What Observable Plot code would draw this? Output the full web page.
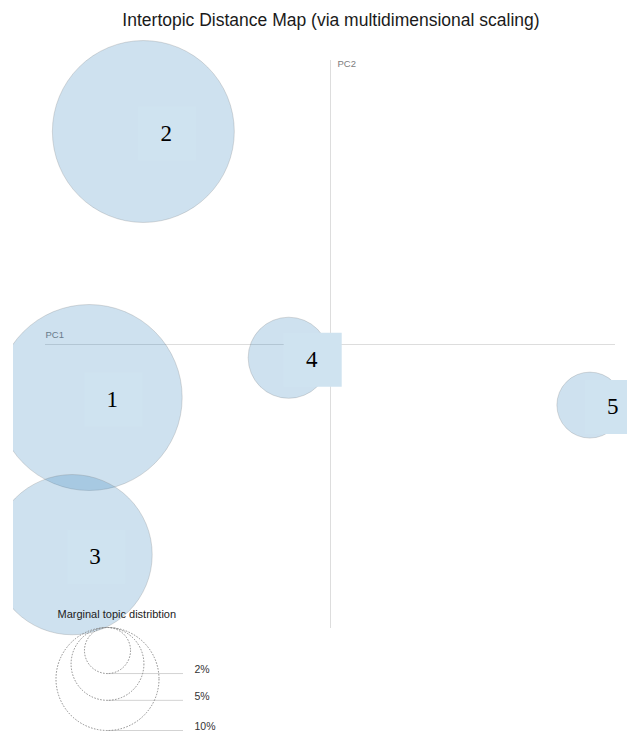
<!DOCTYPE html>
<html>
<head>
<meta charset="utf-8">
<script src="https://cdn.jsdelivr.net/npm/d3@7"></script>
<script src="https://cdn.jsdelivr.net/npm/@observablehq/plot@0.6"></script>
<style>
  body { margin: 0; background: #fff; }
  #wrap { position: relative; width: 627px; height: 731px; overflow: hidden; background: #fff; }
  #title { position: absolute; left: 0; top: 9px; width: 627px; padding-left: 35px; box-sizing: border-box;
           text-align: center; font: 17.5px "Liberation Sans", Arial, sans-serif; line-height: 22px; color: #1a1a1a; }
  #chart { position: absolute; left: 13px; top: 40px; width: 614px; height: 691px; }
  #legend { position: absolute; left: 0; top: 0; width: 627px; height: 731px; pointer-events: none; }
</style>
</head>
<body>
<div id="wrap">
  <div id="chart"></div>
  <div id="legend"></div>
  <div id="title">Intertopic Distance Map (via multidimensional scaling)</div>
</div>
<script>
// ---- data ----
const topicIds = [1, 2, 3, 4, 5];
const pc1 = [-0.254, -0.197, -0.272, -0.044, 0.273];
const pc2 = [-0.056, 0.225, -0.222, -0.014, -0.064];
const marginalPct = [32.6, 31.2, 24.2, 6.2, 4.1];
const legendPct = [2, 5, 10];
const legendLabels = ["2%", "5%", "10%"];
const axisDomain = [-0.3, 0.3];
const axisNames = ["PC1", "PC2"];
const legendTitle = "Marginal topic distribtion";

const topics = topicIds.map((id, i) => ({ id, x: pc1[i], y: pc2[i], freq: marginalPct[i] }));

const rOpts = { type: "sqrt", domain: [0, 10], range: [0, 51.5] };
const sans = "'Liberation Sans', Arial, sans-serif";

const labelBox = { draw(ctx) { ctx.rect(-29, -27, 58, 54); } };
const LDX = 23, LDY = 2;

const chart = Plot.plot({
  width: 614, height: 691,
  marginLeft: 32, marginRight: 12, marginTop: 20, marginBottom: 103,
  style: { background: "transparent", overflow: "hidden" },
  x: { domain: axisDomain, axis: null },
  y: { domain: axisDomain, axis: null },
  r: rOpts,
  marks: [
    Plot.ruleY([0], { stroke: "#dddddd", strokeWidth: 1 }),
    Plot.ruleX([0], { stroke: "#dddddd", strokeWidth: 1 }),
    Plot.text([axisNames[0]], { x: axisDomain[0], y: 0, text: d => d, dy: -10, textAnchor: "start", fontSize: 9.5, fill: "#7d7d7d", fontFamily: sans }),
    Plot.text([axisNames[1]], { x: 0, y: axisDomain[1], text: d => d, dx: 7, dy: 3, textAnchor: "start", fontSize: 9.5, fill: "#7d7d7d", fontFamily: sans }),
    Plot.dot(topics, { x: "x", y: "y", r: "freq", fill: "#1f77b4", fillOpacity: 0.22, stroke: "#777", strokeOpacity: 0.25, strokeWidth: 1 }),
    Plot.text(topics, { x: "x", y: "y", text: d => String(d.id), fontSize: 9, fontWeight: "bold", fill: "#1b3448", fontFamily: sans }),
    Plot.dot(topics, { x: "x", y: "y", symbol: labelBox, r: 10, dx: LDX + 1, dy: LDY, fill: "#cfe3f0", stroke: "none" }),
    Plot.text(topics, { x: "x", y: "y", text: d => String(d.id), dx: LDX, dy: LDY, fontSize: 23, fill: "#000", fontFamily: "'Liberation Serif', 'Times New Roman', serif" })
  ]
});
document.getElementById("chart").appendChild(chart);

const rScale = Plot.scale({ r: rOpts });
const LX = 107, LTOP = 627, LLINE = 183, LTEXT = 194;
const legendRows = legendPct.map((v, i) => ({ v, label: legendLabels[i], r: rScale.apply(v) }));

const legend = Plot.plot({
  width: 627, height: 731, margin: 0,
  style: { background: "transparent" },
  x: { type: "identity", axis: null },
  y: { type: "identity", axis: null },
  r: { type: "identity" },
  marks: [
    Plot.ruleY(legendRows, { y: d => LTOP + 2 * d.r, x1: LX, x2: LLINE, stroke: "#d3d3d3", strokeWidth: 1 }),
    Plot.dot(legendRows, { x: LX, y: d => LTOP + d.r, r: "r", fill: "none", stroke: "#8a8a8a", strokeWidth: 1, strokeDasharray: "1.5,1.5" }),
    Plot.text(legendRows, { x: LTEXT, y: d => LTOP + 2 * d.r, dy: -4, text: "label", textAnchor: "start", fontSize: 10.5, fill: "#333", fontFamily: sans }),
    Plot.text([legendTitle], { x: 57, y: 614, text: d => d, textAnchor: "start", fontSize: 11, fill: "#222", fontFamily: sans })
  ]
});
document.getElementById("legend").appendChild(legend);
</script>
</body>
</html>
